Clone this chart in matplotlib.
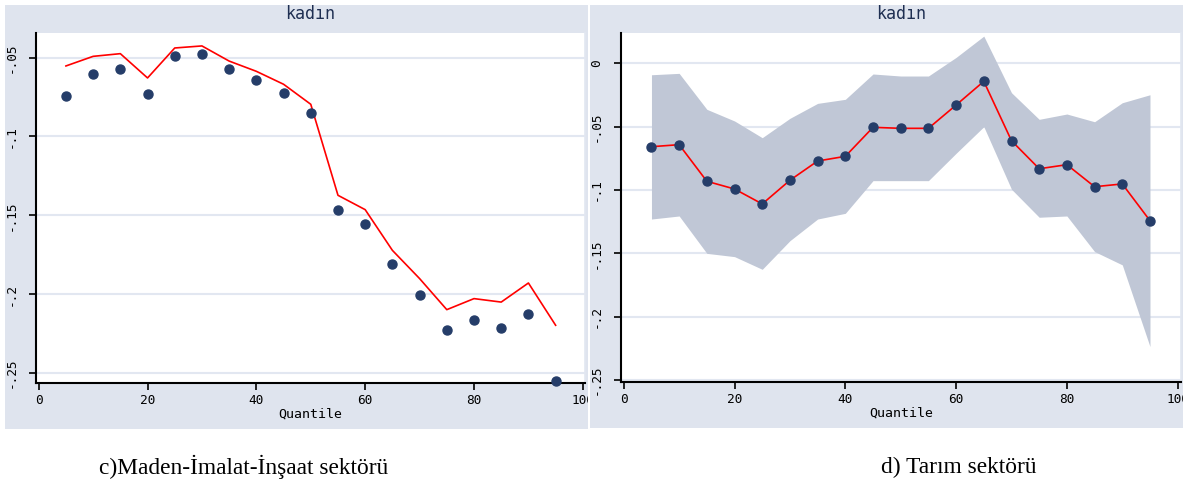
import matplotlib
matplotlib.use("Agg")
import matplotlib.pyplot as plt
from matplotlib.patches import Rectangle
from matplotlib.transforms import Bbox, TransformedBbox

# ---- data ----
quantiles = [5, 10, 15, 20, 25, 30, 35, 40, 45, 50, 55, 60, 65, 70, 75, 80, 85, 90, 95]

# panel c (Maden-İmalat-İnşaat)
c_points = [-0.0745, -0.0606, -0.0572, -0.0731, -0.0490, -0.0477, -0.0572, -0.0644, -0.0724,
            -0.0851, -0.1464, -0.1557, -0.1810, -0.2007, -0.2227, -0.2166, -0.2212, -0.2126, -0.2550]
c_line = [-0.0553, -0.0492, -0.0475, -0.0629, -0.0439, -0.0426, -0.0522, -0.0587, -0.0669,
          -0.0796, -0.1373, -0.1464, -0.1722, -0.1901, -0.2098, -0.2028, -0.2050, -0.1929, -0.2197]

# panel d (Tarım)
d_points = [-0.0658, -0.0642, -0.0931, -0.0992, -0.1110, -0.0923, -0.0771, -0.0734, -0.0505,
            -0.0513, -0.0513, -0.0329, -0.0142, -0.0611, -0.0832, -0.0800, -0.0974, -0.0952, -0.1242]
d_upper = [-0.0090, -0.0079, -0.0363, -0.0455, -0.0587, -0.0434, -0.0316, -0.0284, -0.0084,
           -0.0100, -0.0100, 0.0047, 0.0215, -0.0232, -0.0442, -0.0400, -0.0461, -0.0311, -0.0248]
d_lower = [-0.1229, -0.1205, -0.1500, -0.1526, -0.1626, -0.1400, -0.1229, -0.1184, -0.0926,
           -0.0926, -0.0926, -0.0710, -0.0500, -0.0994, -0.1215, -0.1205, -0.1486, -0.1591, -0.2236]

x_ticks = [0, 20, 40, 60, 80, 100]
c_yticks = [-0.25, -0.2, -0.15, -0.1, -0.05]
c_ylabels = ["-.25", "-.2", "-.15", "-.1", "-.05"]
d_yticks = [-0.25, -0.2, -0.15, -0.1, -0.05, 0]
d_ylabels = ["-.25", "-.2", "-.15", "-.1", "-.05", "0"]

panel_title = "kadın"
x_label = "Quantile"
captions = ["c)Maden-İmalat-İnşaat sektörü", "d) Tarım sektörü"]

# ---- style ----
W, H = 1192, 491
BG = "#dfe4ee"
GRID = "#e2e7f1"
NAVY = "#253d69"
BAND = "#c0c7d6"
RED = "#ff0000"
MONO = "DejaVu Sans Mono"

fig = plt.figure(figsize=(W / 100, H / 100), dpi=100)
fig.patch.set_facecolor("white")


def px_rect(x0, y0, x1, y1):
    return [x0 / W, 1 - y1 / H, (x1 - x0) / W, (y1 - y0) / H]


panels = [
    dict(bg=(5, 5, 588, 429), ax=(36, 33, 585, 383), xlim=(-0.5, 100.4), ylim=(-0.2563, -0.0344),
         yt=c_yticks, yl=c_ylabels),
    dict(bg=(590, 5, 1183, 428), ax=(621, 32.7, 1181, 382.3), xlim=(-0.5, 100.6), ylim=(-0.2518, 0.0242),
         yt=d_yticks, yl=d_ylabels),
]

axes = []
for p in panels:
    x0, y0, x1, y1 = p["bg"]
    fig.patches.append(Rectangle((x0 / W, 1 - y1 / H), (x1 - x0) / W, (y1 - y0) / H,
                                 transform=fig.transFigure, facecolor=BG, edgecolor="none", zorder=-5))
    ax = fig.add_axes(px_rect(*p["ax"]))
    ax.set_facecolor("white")
    ax.set_xlim(*p["xlim"])
    ax.set_ylim(*p["ylim"])
    ax.set_xticks(x_ticks)
    ax.set_xticklabels([str(v) for v in x_ticks], fontfamily=MONO, fontsize=9.2)
    ax.set_yticks(p["yt"])
    ax.set_yticklabels(p["yl"], fontfamily=MONO, fontsize=9.2, rotation=90, va="center")
    ax.tick_params(axis="both", direction="out", length=5, width=1.2, color="black")
    ax.tick_params(axis="x", pad=3)
    ax.tick_params(axis="y", pad=8)
    ax.grid(axis="y", color=GRID, linewidth=1.5)
    ax.set_axisbelow(True)
    ax.spines["top"].set_visible(False)
    ax.spines["right"].set_color(GRID)
    ax.spines["right"].set_linewidth(1.2)
    ax.spines["left"].set_linewidth(1.5)
    ax.spines["bottom"].set_linewidth(1.5)
    ax.set_xlabel(x_label, fontfamily=MONO, fontsize=9.5, labelpad=0)
    ax.set_title(panel_title, fontfamily=MONO, fontsize=12, color="#1f2f52", pad=10)
    clip = TransformedBbox(Bbox([[x0 / W, 1 - y1 / H], [x1 / W, 1 - y0 / H]]), fig.transFigure)
    for t in ax.xaxis.get_major_ticks():
        t.label1.set_clip_on(True)
        t.label1.set_clip_box(clip)
    axes.append(ax)

# panel c
axc = axes[0]
axc.plot(quantiles, c_line, color=RED, linewidth=1.2, zorder=3)
axc.plot(quantiles, c_points, linestyle="none", marker="o", markersize=6.5, color=NAVY, zorder=4,
         clip_on=False)

# panel d
axd = axes[1]
axd.fill_between(quantiles, d_lower, d_upper, color=BAND, linewidth=0, zorder=2)
axd.plot(quantiles, d_points, color=RED, linewidth=1.2, zorder=3)
axd.plot(quantiles, d_points, linestyle="none", marker="o", markersize=6.5, color=NAVY, zorder=4)

# captions
fig.text(244 / W, 1 - 467 / H, captions[0], fontfamily="Liberation Serif", fontsize=16.8,
         ha="center", va="center", color="black")
fig.text(959 / W, 1 - 467 / H, captions[1], fontfamily="Liberation Serif", fontsize=16.8,
         ha="center", va="center", color="black")

fig.savefig("out.png", dpi=100, facecolor="white")
